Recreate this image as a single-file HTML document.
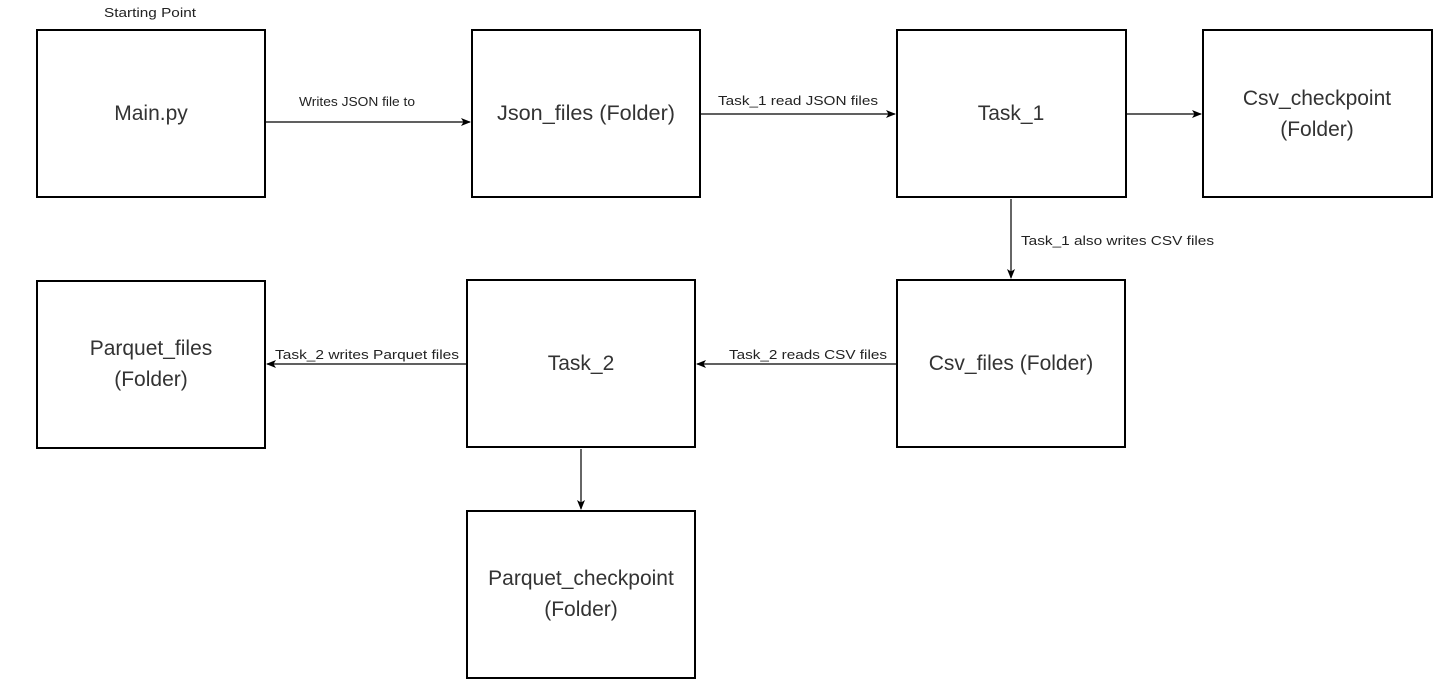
<!DOCTYPE html>
<html><head><meta charset="utf-8"><style>
html,body{margin:0;padding:0;background:#fff;}
svg{display:block;}
.b{fill:#fff;stroke:#000;stroke-width:2;}
.t{font-family:"Liberation Sans",sans-serif;font-size:21px;fill:#333;text-anchor:middle;}
.l{font-family:"Liberation Sans",sans-serif;font-size:13px;fill:#222;}
.c{stroke:#000;stroke-width:1.2;fill:none;}
</style></head><body>
<svg width="1451" height="689" viewBox="0 0 1451 689">
<defs><marker id="a" markerWidth="10" markerHeight="8" refX="9" refY="4" orient="auto" markerUnits="userSpaceOnUse"><path d="M0,0 L10,4 L0,8 L2.5,4 z" fill="#000"/></marker></defs>
<text class="l" x="104" y="17" textLength="92" lengthAdjust="spacingAndGlyphs">Starting Point</text>
<rect class="b" x="37" y="30" width="228" height="167"/>
<text class="t" x="151" y="120">Main.py</text>
<rect class="b" x="472" y="30" width="228" height="167"/>
<text class="t" x="586" y="120" textLength="178" lengthAdjust="spacingAndGlyphs">Json_files (Folder)</text>
<rect class="b" x="897" y="30" width="229" height="167"/>
<text class="t" x="1011" y="120">Task_1</text>
<rect class="b" x="1203" y="30" width="229" height="167"/>
<text class="t" x="1317" y="105">Csv_checkpoint</text>
<text class="t" x="1317" y="136">(Folder)</text>
<rect class="b" x="37" y="281" width="228" height="167"/>
<text class="t" x="151" y="355">Parquet_files</text>
<text class="t" x="151" y="386">(Folder)</text>
<rect class="b" x="467" y="280" width="228" height="167"/>
<text class="t" x="581" y="370">Task_2</text>
<rect class="b" x="897" y="280" width="228" height="167"/>
<text class="t" x="1011" y="370">Csv_files (Folder)</text>
<rect class="b" x="467" y="511" width="228" height="167"/>
<text class="t" x="581" y="585">Parquet_checkpoint</text>
<text class="t" x="581" y="616">(Folder)</text>

<line class="c" x1="266" y1="122" x2="470" y2="122" marker-end="url(#a)"/>
<text class="l" x="299" y="106" textLength="116" lengthAdjust="spacingAndGlyphs">Writes JSON file to</text>
<line class="c" x1="701" y1="114" x2="895" y2="114" marker-end="url(#a)"/>
<text class="l" x="718" y="105" textLength="160" lengthAdjust="spacingAndGlyphs">Task_1 read JSON files</text>
<line class="c" x1="1127" y1="114" x2="1201" y2="114" marker-end="url(#a)"/>
<line class="c" x1="1011" y1="199" x2="1011" y2="278" marker-end="url(#a)"/>
<text class="l" x="1021" y="245" textLength="193" lengthAdjust="spacingAndGlyphs">Task_1 also writes CSV files</text>
<line class="c" x1="896" y1="364" x2="697" y2="364" marker-end="url(#a)"/>
<text class="l" x="729" y="359" textLength="158" lengthAdjust="spacingAndGlyphs">Task_2 reads CSV files</text>
<line class="c" x1="466" y1="364" x2="267" y2="364" marker-end="url(#a)"/>
<text class="l" x="275" y="359" textLength="184" lengthAdjust="spacingAndGlyphs">Task_2 writes Parquet files</text>
<line class="c" x1="581" y1="449" x2="581" y2="509" marker-end="url(#a)"/>
</svg>
</body></html>
